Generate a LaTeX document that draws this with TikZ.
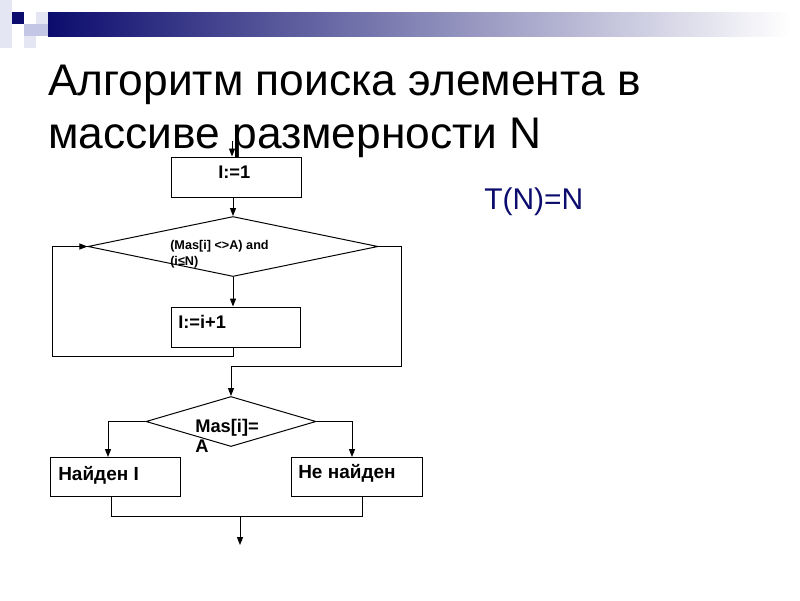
\documentclass[tikz,border=0pt]{standalone}
\usepackage{fontspec}
\setmainfont{Liberation Sans}
\usetikzlibrary{shapes.geometric,arrows.meta,positioning}
\definecolor{navy}{RGB}{12,12,110}
\definecolor{lav}{RGB}{196,198,230}
\definecolor{pale}{RGB}{228,230,244}
\tikzset{
  box/.style={draw,line width=0.7pt,minimum height=1cm,inner sep=0pt},
  dia/.style={draw,diamond,line width=0.7pt,inner sep=0pt},
  txt/.style={anchor=base west,inner sep=0pt,font=\bfseries\fontsize{13}{15}\selectfont},
  small/.style={anchor=base west,inner sep=0pt,font=\bfseries\fontsize{9}{11}\selectfont},
  ttl/.style={anchor=base west,inner sep=0pt,font=\fontsize{31.5}{37}\selectfont},
  arr/.style={-{Triangle[length=2mm,width=1.5mm]},line width=0.7pt},
  ln/.style={line width=0.7pt}
}

\begin{document}
\begin{tikzpicture}[x=0.025cm,y=-0.025cm]
\useasboundingbox (0,0) rectangle (800,600);
% header strip
\fill[pale] (0,0) rectangle (12,48);
\fill[pale] (36,12) rectangle (48,24);
\fill[lav] (24,24) rectangle (48,36);
\fill[pale] (24,36) rectangle (36,48);
\fill[navy] (12,12) rectangle (24,24);
\shade[left color=navy,right color=white] (48,12) rectangle (790,36);
% title
\node[ttl] (title1) at (48,95) {Алгоритм поиска элемента в};
\node[ttl] (title2) at (48,148) {массиве размерности N};
\node[anchor=base west,inner sep=0pt,text=navy,font=\fontsize{21.3}{25}\selectfont] (tn) at (484,209) {T(N)=N};
% blocks
\node[box,minimum width=3.225cm] (init) at (236.5,177) {};
\node[dia,minimum width=7.25cm,minimum height=1.5cm] (cond) at (233,246.5) {};
\node[box,minimum width=3.2cm] (inc) at (236,327) {};
\node[dia,minimum width=4.25cm,minimum height=1.25cm] (test) at (231,421.5) {};
\node[box,minimum width=3.225cm,minimum height=0.975cm] (found) at (115.5,476.5) {};
\node[box,minimum width=3.25cm,minimum height=0.975cm] (nfound) at (357,476.5) {};
% texts
\node[txt] (initt) at (218,178) {I:=1};
\node[small] (conda) at (170,249) {(Mas[i] <>A) and};
\node[small] (condb) at (170,265) {(i≤N)};
\node[txt] (inct) at (178,328) {I:=i+1};
\node[txt] (testa) at (195,432) {Mas[i]=};
\node[txt] (testb) at (195,452) {A};
\node[txt,font=\bfseries\fontsize{13.5}{15}\selectfont] (foundt) at (58,480) {Найден I};
\node[txt,font=\bfseries\fontsize{13.5}{15}\selectfont] (nfoundt) at (298,478) {Не найден};
% connectors
\coordinate (start) at (232,141);
\coordinate (lp) at (52,356);
\coordinate (rp) at (401,366);
\coordinate (lb) at (108,457);
\coordinate (rb) at (352,457);
\coordinate (ml) at (111,496);
\coordinate (mr) at (362,496);
\coordinate (mj) at (240,516);
\coordinate (stop) at (240,545);
\draw[arr] (start) -- (start |- init.north);
\draw[arr] (cond.north |- init.south) -- (cond.north);
\draw[arr] (cond.south) -- (cond.south |- inc.north);
\draw[arr] (cond.south |- inc.south) |- (lp) |- (cond.west);
\draw[arr] (cond.east) -| (rp) -| (test.north);
\draw[arr] (test.west) -| (lb);
\draw[arr] (test.east) -| (rb);
\draw[ln] (ml) |- (mj) -| (mr);
\draw[arr] (mj) -- (stop);
\end{tikzpicture}
\end{document}
